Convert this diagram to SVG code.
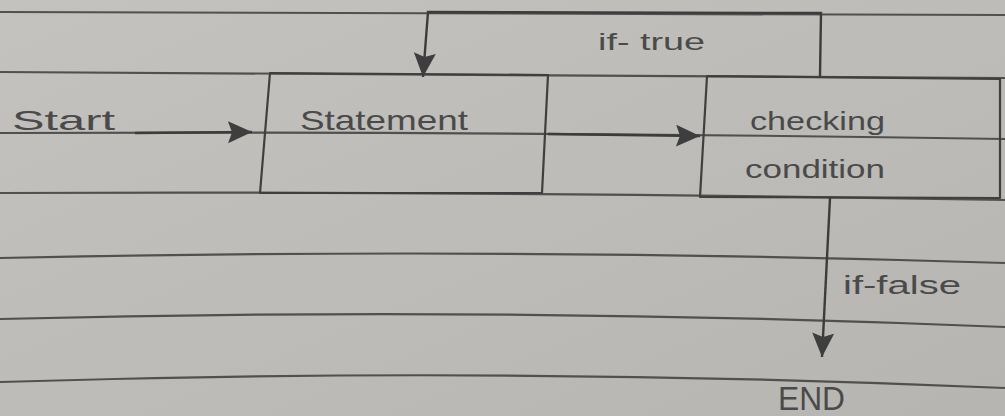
<svg xmlns="http://www.w3.org/2000/svg" width="1005" height="416" viewBox="0 0 1005 416">
  <defs>
    <linearGradient id="paper" x1="0" y1="0" x2="1" y2="1">
      <stop offset="0" stop-color="#c3c2be"/>
      <stop offset="0.5" stop-color="#bdbcb8"/>
      <stop offset="1" stop-color="#b6b5b1"/>
    </linearGradient>
    <marker id="arrow" markerUnits="userSpaceOnUse" markerWidth="26" markerHeight="24" refX="24" refY="11" orient="auto">
      <path d="M0,0 L24,11 L0,22 L4,11 Z" fill="#3e3e3e"/>
    </marker>
    <style>
      .rule { fill: none; stroke: #505050; stroke-width: 2.2; }
      .box { fill: none; stroke: #3f3f3f; stroke-width: 2.2; stroke-linejoin: round; }
      .conn { fill: none; stroke: #3c3c3c; stroke-width: 2.4; marker-end: url(#arrow); }
      .hand { font-family: "Liberation Sans", "DejaVu Sans", sans-serif; fill: #4a4a4a; }
    </style>
  </defs>

  <rect width="1005" height="416" fill="url(#paper)"/>

  <g id="ruled-lines">
    <path class="rule" d="M0,12 Q500,12 1005,15"/>
    <path class="rule" d="M0,72 Q500,73 1005,78"/>
    <path class="rule" d="M0,133 Q500,131 1005,139"/>
    <path class="rule" d="M0,193 Q500,191 1005,200"/>
    <path class="rule" d="M0,258 Q500,247 1005,263"/>
    <path class="rule" d="M0,319 Q500,306 1005,327"/>
    <path class="rule" d="M0,382 Q500,366 1005,388"/>
  </g>

  <g id="start">
    <text class="hand" x="12" y="130" font-size="28" textLength="103" lengthAdjust="spacingAndGlyphs">Start</text>
  </g>

  <g id="statement">
    <polygon class="box" points="270,73 548,75 542,193 260,193"/>
    <text class="hand" x="300" y="130" font-size="28" textLength="168" lengthAdjust="spacingAndGlyphs">Statement</text>
  </g>

  <g id="checking-condition">
    <polygon class="box" points="707,76 1000,79 1000,198 700,197"/>
    <text class="hand" x="750" y="130" font-size="26" textLength="135" lengthAdjust="spacingAndGlyphs">checking</text>
    <text class="hand" x="745" y="178" font-size="26" textLength="140" lengthAdjust="spacingAndGlyphs">condition</text>
  </g>

  <g id="end">
    <text class="hand" x="778" y="410" font-size="34" textLength="67" lengthAdjust="spacingAndGlyphs">END</text>
  </g>

  <g id="connectors">
    <path class="conn" d="M135,133 L252,132"/>
    <path class="conn" d="M548,134 L700,136"/>
    <path class="conn" d="M820,76 L821,13 L428,12 L423,77"/>
    <path class="conn" d="M830,198 L822,357"/>
    <text class="hand" x="598" y="50" font-size="24" textLength="107" lengthAdjust="spacingAndGlyphs">if- true</text>
    <text class="hand" x="843" y="294" font-size="26" textLength="118" lengthAdjust="spacingAndGlyphs">if-false</text>
  </g>
</svg>
